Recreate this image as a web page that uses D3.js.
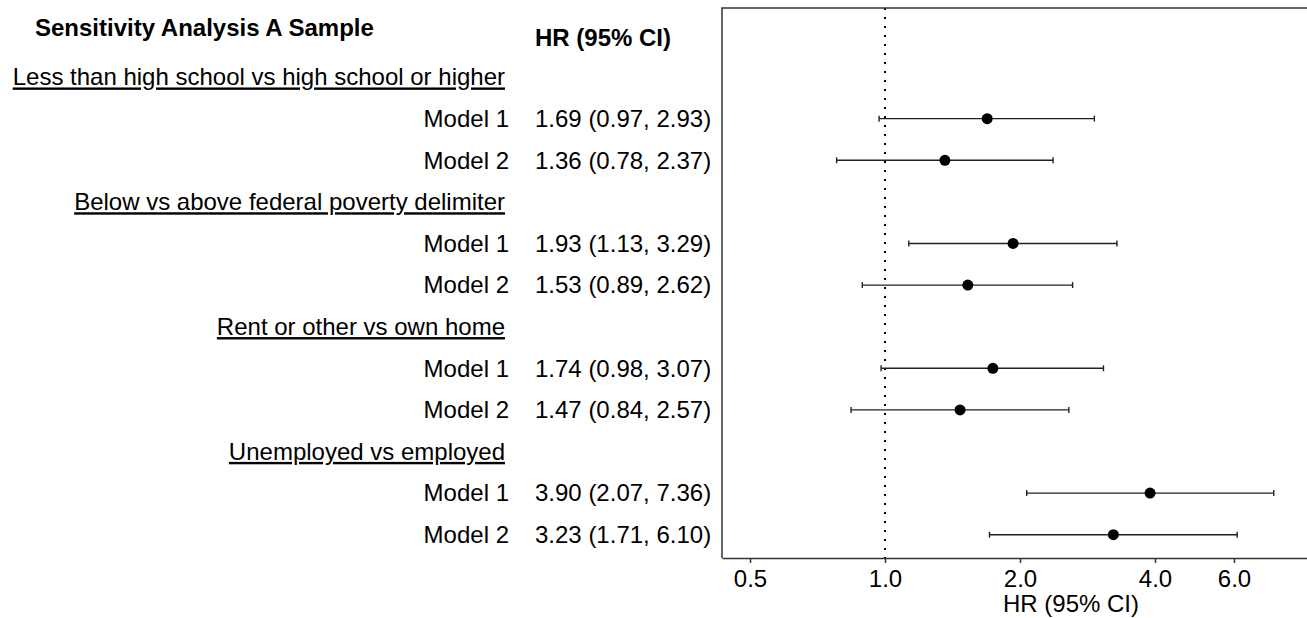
<!DOCTYPE html>
<html lang="en">
<head>
<meta charset="utf-8">
<title>Sensitivity Analysis A Sample</title>
<script src="https://cdn.jsdelivr.net/npm/d3@7"></script>
<style>
  body { margin: 0; background: #fff; }
  svg text { font-family: "Liberation Sans", Arial, Helvetica, sans-serif; fill: #000; }
</style>
</head>
<body>
<script>
// data
var groups = ["Less than high school vs high school or higher",
              "Below vs above federal poverty delimiter",
              "Rent or other vs own home",
              "Unemployed vs employed"];
var models = ["Model 1", "Model 2"];
var hr    = [1.69, 1.36, 1.93, 1.53, 1.74, 1.47, 3.90, 3.23];
var lower = [0.97, 0.78, 1.13, 0.89, 0.98, 0.84, 2.07, 1.71];
var upper = [2.93, 2.37, 3.29, 2.62, 3.07, 2.57, 7.36, 6.10];
var xTicks = [0.5, 1, 2, 4, 6];

var w = 1307, h = 618;
var panel = {left: 722, right: 1307, top: 8, bottom: 558};
var fs = "24px";

var svg = d3.select("body").append("svg")
  .attr("width", w).attr("height", h);

// scales
var x = d3.scaleLog()
  .domain([0.433, 8.73])
  .range([panel.left, panel.right]);

var y = d3.scaleLinear()
  .domain([-0.66, 12.56])
  .range([panel.top, panel.bottom]);

// build rows
var rows = [];
groups.forEach(function(g, gi) {
  rows.push({type: "header", label: g, row: gi * 3 + 1});
  models.forEach(function(m, mi) {
    var k = gi * 2 + mi;
    rows.push({type: "model", label: m, row: gi * 3 + 2 + mi,
               hr: hr[k], lo: lower[k], hi: upper[k]});
  });
});
var est = rows.filter(function(d) { return d.type === "model"; });

// column titles
svg.append("text")
  .attr("x", 35).attr("y", 36)
  .style("font-size", fs).style("font-weight", "bold")
  .text("Sensitivity Analysis A Sample");

svg.append("text")
  .attr("x", 535).attr("y", 46)
  .style("font-size", fs).style("font-weight", "bold")
  .text("HR (95% CI)");

// left labels
svg.selectAll(".lab")
  .data(rows)
  .enter().append("text")
  .attr("class", "lab")
  .attr("x", function(d) { return d.type === "header" ? 505 : 509; })
  .attr("y", function(d) { return y(d.row); })
  .attr("dy", "0.35em")
  .attr("text-anchor", "end")
  .style("font-size", fs)
  .style("text-decoration", function(d) { return d.type === "header" ? "underline" : null; })
  .text(function(d) { return d.label; });

// HR column
svg.selectAll(".hrtxt")
  .data(est)
  .enter().append("text")
  .attr("class", "hrtxt")
  .attr("x", 535)
  .attr("y", function(d) { return y(d.row); })
  .attr("dy", "0.35em")
  .style("font-size", fs)
  .text(function(d) {
    return d.hr.toFixed(2) + " (" + d.lo.toFixed(2) + ", " + d.hi.toFixed(2) + ")";
  });

// reference line at 1
svg.append("line")
  .attr("x1", x(1)).attr("x2", x(1))
  .attr("y1", panel.top).attr("y2", panel.bottom)
  .attr("stroke", "#000")
  .attr("stroke-width", 2)
  .attr("stroke-dasharray", "2,7");

// CI lines
svg.selectAll(".ci")
  .data(est)
  .enter().append("line")
  .attr("class", "ci")
  .attr("x1", function(d) { return x(d.lo); })
  .attr("x2", function(d) { return x(d.hi); })
  .attr("y1", function(d) { return y(d.row); })
  .attr("y2", function(d) { return y(d.row); })
  .attr("stroke", "#222").attr("stroke-width", 1.4);

// whiskers
["lo", "hi"].forEach(function(end) {
  svg.selectAll(".wh-" + end)
    .data(est)
    .enter().append("line")
    .attr("class", "wh-" + end)
    .attr("x1", function(d) { return x(d[end]); })
    .attr("x2", function(d) { return x(d[end]); })
    .attr("y1", function(d) { return y(d.row) - 3; })
    .attr("y2", function(d) { return y(d.row) + 3; })
    .attr("stroke", "#222").attr("stroke-width", 1.4);
});

// points
svg.selectAll("circle")
  .data(est)
  .enter().append("circle")
  .attr("cx", function(d) { return x(d.hr); })
  .attr("cy", function(d) { return y(d.row); })
  .attr("r", 5.5)
  .attr("fill", "#000");

// panel border (left and top)
svg.append("path")
  .attr("d", "M" + panel.left + "," + panel.bottom + "V" + panel.top + "H" + panel.right)
  .attr("fill", "none").attr("stroke", "#333").attr("stroke-width", 1.5);

// x axis
var xAxis = d3.axisBottom(x)
  .tickValues(xTicks)
  .tickSize(5)
  .tickSizeOuter(0)
  .tickFormat(d3.format(".1f"));

var gx = svg.append("g")
  .attr("transform", "translate(0," + panel.bottom + ")")
  .call(xAxis);
gx.select(".domain").attr("stroke", "#333").attr("stroke-width", 1.5);
gx.selectAll(".tick line").attr("stroke", "#333").attr("stroke-width", 1.5);
gx.selectAll(".tick text")
  .attr("y", 12)
  .style("font-size", fs)
  .style("font-family", "'Liberation Sans', Arial, sans-serif")
  .attr("fill", "#000");

svg.append("text")
  .attr("x", 1071).attr("y", 612)
  .attr("text-anchor", "middle")
  .style("font-size", fs)
  .text("HR (95% CI)");
</script>
</body>
</html>
